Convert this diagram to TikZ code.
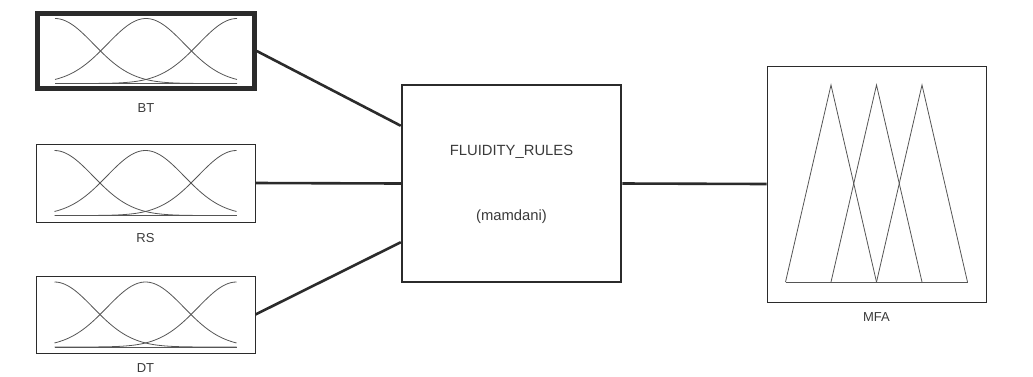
\documentclass[tikz,border=0pt]{standalone}
\usepackage{fontspec}
\setmainfont{Liberation Sans}
\usetikzlibrary{positioning}
\definecolor{ink}{HTML}{2B2B2B}
\definecolor{txt}{HTML}{3A3A3A}
\definecolor{crv}{HTML}{555555}
\tikzset{
  mfbox/.style={draw=ink, line width=1pt, minimum width=219pt, inner sep=0pt, fill=white},
  selbox/.style={draw=ink, line width=4.5pt, minimum width=217pt, minimum height=75pt, inner sep=0pt},
  rulebox/.style={draw=ink, line width=2.5pt, minimum width=219pt, minimum height=197pt, inner sep=0pt},
  wire/.style={draw=ink, line width=2.6pt},
  curve/.style={draw=crv, line width=0.8pt},
  lbl/.style={text=txt, font=\fontsize{13}{15}\selectfont, inner sep=0pt},
  rtxt/.style={text=txt, font=\fontsize{14.8}{17}\selectfont, inner sep=0pt},
}
% three Gaussian membership functions around a box centre
\newcommand{\gaussmf}[1]{%
  \begin{scope}[shift={(#1)}]
    \draw[curve] (-91,32.5) -- (91,32.5);
    \draw[curve] plot[domain=-91:91, samples=70] (\x, {32.5-65*exp(-0.5*((\x+91)/38.6)^2)});
    \draw[curve] plot[domain=-91:91, samples=70] (\x, {32.5-65*exp(-0.5*((\x)/38.6)^2)});
    \draw[curve] plot[domain=-91:91, samples=70] (\x, {32.5-65*exp(-0.5*((\x-91)/38.6)^2)});
  \end{scope}}
\begin{document}
\begin{tikzpicture}[x=1pt, y=-1pt]
\useasboundingbox (0,0) rectangle (1033,376);

% input variables
\node[selbox] (BT) at (146,51) {};
\node[mfbox, minimum height=78pt] (RS) at (145.5,183) {};
\node[mfbox, minimum height=77pt] (DT) at (145.5,314.5) {};
\gaussmf{BT.center}
\gaussmf{RS.center}
\gaussmf{DT.center}
\node[lbl] (BTl) at ([yshift=-17pt]BT.south) {BT};
\node[lbl] (RSl) at ([yshift=-16pt]RS.south) {RS};
\node[lbl] (DTl) at ([yshift=-15pt]DT.south) {DT};

% rule block
\node[rulebox] (rules) at (511.5,183.5) {};
\node[rtxt] (rname) at ([yshift=31.5pt]rules.center) {FLUIDITY\_RULES};
\node[rtxt] (rtype) at ([yshift=-33.5pt]rules.center) {(mamdani)};

% output variable
\node[mfbox, minimum height=236pt] (MFA) at (876.5,184) {};
\begin{scope}[shift={(MFA.center)}]
  \draw[curve] (-91,98) -- (91,98);
  \draw[curve] (-91,98) -- (-45.5,-99) -- (0,98);
  \draw[curve] (-45.5,98) -- (0,-99) -- (45.5,98);
  \draw[curve] (0,98) -- (45.5,-99) -- (91,98);
\end{scope}
\node[lbl] (MFAl) at ([yshift=-15pt]MFA.south) {MFA};

% connectors
\draw[wire] (BT.east) -- ([yshift=-42pt]rules.north west);
\draw[wire] (RS.east) -- (rules.west);
\draw[wire] (DT.east) -- ([yshift=41pt]rules.south west);
\draw[wire] (rules.east) -- (MFA.west);
\end{tikzpicture}
\end{document}
